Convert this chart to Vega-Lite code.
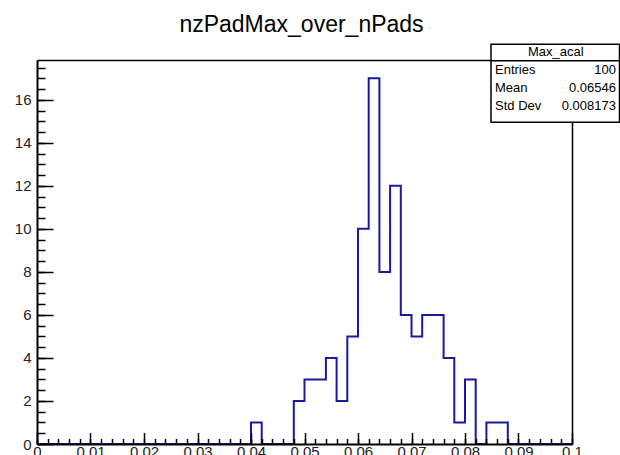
{
  "$schema": "https://vega.github.io/schema/vega-lite/v6.json",
  "width": 535,
  "height": 384,
  "autosize": "none",
  "padding": {"left": 37, "top": 60, "right": 48, "bottom": 11},
  "background": "white",
  "title": {"text": "nzPadMax_over_nPads", "font": "Liberation Sans", "fontSize": 23, "fontWeight": "normal", "color": "#000", "anchor": "middle", "baseline": "alphabetic", "offset": -11, "dx": -3},
  "config": {"view": {"stroke": null}},
  "datasets": {
    "hist": [
      {"bin_start": 0.000, "count": 0}, {"bin_start": 0.002, "count": 0}, {"bin_start": 0.004, "count": 0}, {"bin_start": 0.006, "count": 0}, {"bin_start": 0.008, "count": 0},
      {"bin_start": 0.010, "count": 0}, {"bin_start": 0.012, "count": 0}, {"bin_start": 0.014, "count": 0}, {"bin_start": 0.016, "count": 0}, {"bin_start": 0.018, "count": 0},
      {"bin_start": 0.020, "count": 0}, {"bin_start": 0.022, "count": 0}, {"bin_start": 0.024, "count": 0}, {"bin_start": 0.026, "count": 0}, {"bin_start": 0.028, "count": 0},
      {"bin_start": 0.030, "count": 0}, {"bin_start": 0.032, "count": 0}, {"bin_start": 0.034, "count": 0}, {"bin_start": 0.036, "count": 0}, {"bin_start": 0.038, "count": 0},
      {"bin_start": 0.040, "count": 1}, {"bin_start": 0.042, "count": 0}, {"bin_start": 0.044, "count": 0}, {"bin_start": 0.046, "count": 0}, {"bin_start": 0.048, "count": 2},
      {"bin_start": 0.050, "count": 3}, {"bin_start": 0.052, "count": 3}, {"bin_start": 0.054, "count": 4}, {"bin_start": 0.056, "count": 2}, {"bin_start": 0.058, "count": 5},
      {"bin_start": 0.060, "count": 10}, {"bin_start": 0.062, "count": 17}, {"bin_start": 0.064, "count": 8}, {"bin_start": 0.066, "count": 12}, {"bin_start": 0.068, "count": 6},
      {"bin_start": 0.070, "count": 5}, {"bin_start": 0.072, "count": 6}, {"bin_start": 0.074, "count": 6}, {"bin_start": 0.076, "count": 4}, {"bin_start": 0.078, "count": 1},
      {"bin_start": 0.080, "count": 3}, {"bin_start": 0.082, "count": 0}, {"bin_start": 0.084, "count": 1}, {"bin_start": 0.086, "count": 1}, {"bin_start": 0.088, "count": 0},
      {"bin_start": 0.090, "count": 0}, {"bin_start": 0.092, "count": 0}, {"bin_start": 0.094, "count": 0}, {"bin_start": 0.096, "count": 0}, {"bin_start": 0.098, "count": 0},
      {"bin_start": 0.100, "count": 0}
    ],
    "stats": [
      {"name": "Max_acal", "labels": ["Entries", "Mean", "Std Dev"], "values": ["100", "0.06546", "0.008173"]}
    ]
  },
  "resolve": {"axis": {"x": "independent", "y": "independent"}},
  "layer": [
    {
      "data": {"name": "hist"},
      "mark": {"type": "line", "opacity": 0},
      "encoding": {
        "x": {"field": "bin_start", "type": "quantitative", "scale": {"domain": [0, 0.1], "nice": false, "zero": false},
              "axis": {"orient": "top", "title": null, "labels": false, "ticks": false, "grid": false, "domain": true, "domainColor": "#000", "domainWidth": 1.5, "zindex": 0}},
        "y": {"field": "count", "type": "quantitative", "scale": {"domain": [0, 17.85], "nice": false, "zero": false},
              "axis": {"orient": "right", "title": null, "labels": false, "ticks": false, "grid": false, "domain": true, "domainColor": "#000", "domainWidth": 1.5, "zindex": 0}}
      }
    },
    {
      "data": {"name": "hist"},
      "mark": {"type": "line", "interpolate": "step-after", "color": "#1a1aa0", "strokeWidth": 2},
      "encoding": {
        "x": {"field": "bin_start", "type": "quantitative",
              "axis": {"orient": "bottom", "title": null, "values": [0, 0.01, 0.02, 0.03, 0.04, 0.05, 0.06, 0.07, 0.08, 0.09, 0.1], "format": ".2~f", "ticks": false, "grid": false, "domain": true, "domainColor": "#000", "domainWidth": 2, "labelFont": "Liberation Sans", "labelFontSize": 15, "labelColor": "#222", "labelPadding": 0, "labelOverlap": false, "labelFlush": false, "zindex": 1}},
        "y": {"field": "count", "type": "quantitative",
              "axis": {"orient": "left", "title": null, "values": [0, 2, 4, 6, 8, 10, 12, 14, 16], "ticks": false, "grid": false, "domain": true, "domainColor": "#000", "domainWidth": 2, "labelFont": "Liberation Sans", "labelFontSize": 15, "labelColor": "#222", "labelPadding": 6, "labelOverlap": false, "labelFlush": false, "zindex": 1}}
      }
    },
    {
      "data": {"name": "hist"},
      "mark": {"type": "line", "opacity": 0},
      "encoding": {
        "x": {"field": "bin_start", "type": "quantitative",
              "axis": {"orient": "bottom", "title": null, "values": [0, 0.01, 0.02, 0.03, 0.04, 0.05, 0.06, 0.07, 0.08, 0.09, 0.1], "labels": false, "domain": false, "grid": false, "ticks": true, "tickSize": -11.5, "tickColor": "#000", "tickWidth": 1.5, "zindex": 1}},
        "y": {"field": "count", "type": "quantitative",
              "axis": {"orient": "left", "title": null, "values": [0, 2, 4, 6, 8, 10, 12, 14, 16], "labels": false, "domain": false, "grid": false, "ticks": true, "tickSize": -16, "tickColor": "#000", "tickWidth": 1.5, "zindex": 1}}
      }
    },
    {
      "data": {"name": "hist"},
      "mark": {"type": "line", "opacity": 0},
      "encoding": {
        "x": {"field": "bin_start", "type": "quantitative",
              "axis": {"orient": "bottom", "title": null, "tickCount": 50, "labels": false, "domain": false, "grid": false, "ticks": true, "tickSize": -5.5, "tickColor": "#000", "tickWidth": 1.5, "zindex": 1}},
        "y": {"field": "count", "type": "quantitative",
              "axis": {"orient": "left", "title": null, "tickCount": 36, "labels": false, "domain": false, "grid": false, "ticks": true, "tickSize": -8, "tickColor": "#000", "tickWidth": 1.5, "zindex": 1}}
      }
    },
    {
      "data": {"name": "stats"},
      "mark": {"type": "rect", "fill": "#fff", "stroke": "#000", "strokeWidth": 1.5, "clip": false},
      "encoding": {
        "x": {"datum": 0.08486, "type": "quantitative", "axis": null},
        "x2": {"datum": 0.10888},
        "y": {"datum": 18.58, "type": "quantitative", "axis": null},
        "y2": {"datum": 14.956}
      }
    },
    {
      "data": {"name": "stats"},
      "mark": {"type": "rule", "stroke": "#000", "strokeWidth": 1.5},
      "encoding": {
        "x": {"datum": 0.08486, "type": "quantitative", "axis": null},
        "x2": {"datum": 0.10888},
        "y": {"datum": 17.81, "type": "quantitative", "axis": null}
      }
    },
    {
      "data": {"name": "stats"},
      "mark": {"type": "text", "font": "Liberation Sans", "fontSize": 13, "align": "center", "baseline": "middle", "color": "#000"},
      "encoding": {
        "x": {"datum": 0.09697, "type": "quantitative", "axis": null},
        "y": {"datum": 18.24, "type": "quantitative", "axis": null},
        "text": {"field": "name"}
      }
    },
    {
      "data": {"name": "stats"},
      "mark": {"type": "text", "font": "Liberation Sans", "fontSize": 13, "align": "left", "baseline": "middle", "lineHeight": 18, "color": "#000"},
      "encoding": {
        "x": {"datum": 0.08561, "type": "quantitative", "axis": null},
        "y": {"datum": 17.39, "type": "quantitative", "axis": null},
        "text": {"field": "labels"}
      }
    },
    {
      "data": {"name": "stats"},
      "mark": {"type": "text", "font": "Liberation Sans", "fontSize": 13, "align": "right", "baseline": "middle", "lineHeight": 18, "color": "#000"},
      "encoding": {
        "x": {"datum": 0.10822, "type": "quantitative", "axis": null},
        "y": {"datum": 17.39, "type": "quantitative", "axis": null},
        "text": {"field": "values"}
      }
    }
  ]
}
